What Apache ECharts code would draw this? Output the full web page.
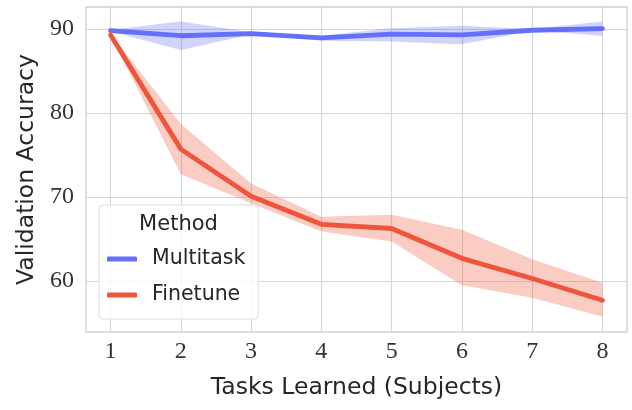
<!DOCTYPE html>
<html><head><meta charset="utf-8">
<script src="https://cdn.jsdelivr.net/npm/echarts@6/dist/echarts.min.js"></script>
<style>html,body{margin:0;padding:0;background:#fff}#c{width:632px;height:410px}</style>
</head><body><div id="c"></div>
<script>
const tasks = [1, 2, 3, 4, 5, 6, 7, 8];
const xTicks = [1, 2, 3, 4, 5, 6, 7, 8];
const yTicks = [60, 70, 80, 90];
const multitaskMean = [89.8, 89.2, 89.45, 88.95, 89.4, 89.3, 89.85, 90.05];
const multitaskLow  = [89.7, 87.5, 89.35, 88.6, 88.5, 88.2, 89.8, 89.2];
const multitaskHigh = [89.9, 90.9, 89.6, 89.2, 90.1, 90.4, 90.0, 90.9];
const finetuneMean = [89.3, 75.7, 70.1, 66.75, 66.25, 62.7, 60.3, 57.7];
const finetuneLow  = [89.2, 72.7, 69.25, 65.9, 64.7, 59.5, 58.0, 55.75];
const finetuneHigh = [89.4, 78.7, 71.6, 67.65, 67.9, 66.1, 62.6, 59.8];

const BLUE = '#646ffa', RED = '#ef553b';
const pairs = (ys) => tasks.map((x, i) => [x, ys[i]]);

function band(name, lo, hi, color) {
  return {
    name: name + '_band', type: 'custom', silent: true, z: 1, clip: true,
    data: tasks.map((x, i) => [x, lo[i], hi[i]]),
    encode: {x: 0, y: [1, 2]},
    renderItem: function (params, api) {
      if (params.dataIndex !== 0) return null;
      const upper = tasks.map((x, i) => api.coord([x, hi[i]]));
      const lower = tasks.map((x, i) => api.coord([x, lo[i]])).reverse();
      return {
        type: 'polygon',
        shape: {points: upper.concat(lower)},
        style: {fill: color, stroke: null}
      };
    }
  };
}

const chart = echarts.init(document.getElementById('c'), null, {renderer: 'canvas'});
chart.setOption({
  animation: false,
  backgroundColor: '#fff',
  grid: {left: 86, right: 5, top: 7, bottom: 78, show: true, borderColor: '#cfcfcf', borderWidth: 1.3, containLabel: false},
  xAxis: {
    type: 'value', min: 0.65, max: 8.35,
    name: 'Tasks Learned (Subjects)', nameLocation: 'middle', nameGap: 44,
    nameTextStyle: {fontFamily: 'DejaVu Sans', fontSize: 23.5, color: '#262626'},
    axisLine: {show: false},
    axisTick: {show: false, customValues: xTicks},
    axisLabel: {customValues: xTicks, fontFamily: 'Liberation Serif', fontSize: 24, color: '#333', margin: 8},
    splitLine: {show: true, lineStyle: {color: '#d6d6d6', width: 1.1}}
  },
  yAxis: {
    type: 'value', min: 53.93, max: 92.62,
    name: 'Validation Accuracy', nameLocation: 'middle', nameGap: 47,
    nameTextStyle: {fontFamily: 'DejaVu Sans', fontSize: 23.5, color: '#262626'},
    axisLine: {show: false},
    axisTick: {show: false, customValues: yTicks},
    axisLabel: {customValues: yTicks, fontFamily: 'Liberation Serif', fontSize: 24, color: '#333', margin: 12},
    splitLine: {show: true, lineStyle: {color: '#d6d6d6', width: 1.1}}
  },
  legend: {
    data: [{name: 'Multitask', icon: 'roundRect'}, {name: 'Finetune', icon: 'roundRect'}],
    orient: 'vertical', left: 99, top: 205,
    padding: [42, 13, 12, 8], itemGap: 12,
    itemWidth: 30, itemHeight: 5,
    textStyle: {fontFamily: 'DejaVu Sans', fontSize: 20.5, color: '#262626', lineHeight: 24, padding: [0, 0, 0, 10]},
    backgroundColor: 'rgba(255,255,255,0.8)', borderColor: '#dcdcdc', borderWidth: 1, borderRadius: 4,
    selectedMode: false, z: 10
  },
  graphic: [{
    type: 'text', x: 178.5, y: 225, z: 100,
    style: {text: 'Method', fontFamily: 'DejaVu Sans', fontSize: 21, fill: '#262626', align: 'center', verticalAlign: 'middle'}
  }],
  series: [
    band('Multitask', multitaskLow, multitaskHigh, 'rgba(100,111,250,0.3)'),
    band('Finetune', finetuneLow, finetuneHigh, 'rgba(239,85,59,0.3)'),
    {name: 'Multitask', type: 'line', data: pairs(multitaskMean), symbol: 'none',
     lineStyle: {color: BLUE, width: 4.8, cap: 'round', join: 'round'}, itemStyle: {color: BLUE}, z: 3},
    {name: 'Finetune', type: 'line', data: pairs(finetuneMean), symbol: 'none',
     lineStyle: {color: RED, width: 4.8, cap: 'round', join: 'round'}, itemStyle: {color: RED}, z: 3}
  ]
});
</script></body></html>
